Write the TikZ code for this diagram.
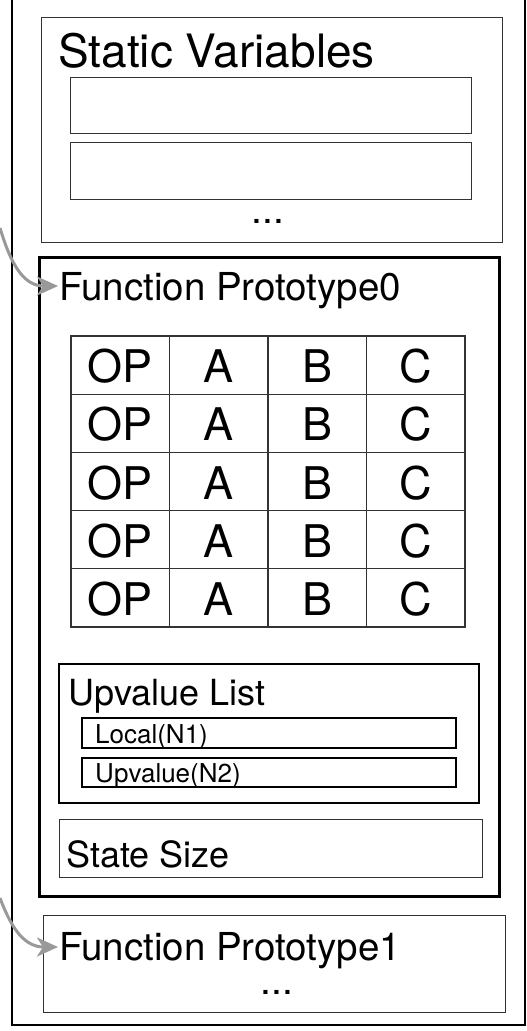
\documentclass[tikz,border=0pt]{standalone}
\usepackage{fontspec}
\setmainfont{TeX Gyre Heros}
\usetikzlibrary{arrows.meta,calc}

\definecolor{linkgray}{HTML}{999999}
\definecolor{thinline}{HTML}{333333}

\tikzset{
  panel/.style={draw=thinline, line width=1.4pt, inner sep=0pt, anchor=north west},
  slot/.style={draw=thinline, line width=1.2pt, inner sep=0pt, anchor=north west},
  protobox/.style={draw=black, line width=3pt, inner sep=0pt, anchor=north west},
  listbox/.style={draw=black, line width=2pt, inner sep=0pt, anchor=north west},
  entrybox/.style={draw=black, line width=1.8pt, inner sep=0pt, anchor=north west},
  cell/.style={draw=thinline, line width=1.2pt, inner sep=0pt,
    minimum width=98.5pt, minimum height=58.2pt,
    text height=35pt, text depth=0pt, font=\fontsize{45}{48}\selectfont},
  label/.style={inner sep=0pt, anchor=base west},
  bigtext/.style={label, font=\fontsize{46}{50}\selectfont},
  headtext/.style={label, font=\fontsize{38.5}{42}\selectfont},
  midtext/.style={label, font=\fontsize{36}{40}\selectfont},
  smalltext/.style={label, font=\fontsize{26}{30}\selectfont},
  dots/.style={inner sep=0pt, anchor=base, font=\fontsize{39}{42}\selectfont},
  link/.style={draw=linkgray, line width=3pt,
    -{Stealth[length=21pt, width=19pt, inset=6pt, fill=linkgray]}},
}

\begin{document}
\begin{tikzpicture}[x=1pt, y=-1pt]
  \useasboundingbox (0,0) rectangle (527,1031);

  % outer container (its top edge runs past the page)
  \coordinate (otl) at (12,-10);
  \coordinate (obl) at (12,1025);
  \coordinate (obr) at (525,1025);
  \coordinate (otr) at (525,-10);
  \draw[line width=2.5pt] (otl) -- (obl) -- (obr) -- (otr);

  % static variables
  \node[panel, minimum width=461pt, minimum height=225pt] (static) at (41,17) {};
  \node[bigtext] (statictitle) at (58,67) {Static Variables};
  \node[slot, minimum width=401pt, minimum height=56pt] (sv1) at (70,77) {};
  \node[slot, minimum width=401pt, minimum height=57pt] (sv2) at (70,142) {};
  \node[dots] (svdots) at (268,223) {...};

  % function prototype 0
  \node[protobox, minimum width=460pt, minimum height=639pt] (proto0) at (38,256) {};
  \node[headtext] (fp0) at (59,300) {Function Prototype0};

  % instruction table
  \foreach \r in {0,...,4} {
    \foreach \t [count=\c] in {OP,A,B,C} {
      \node[cell] (cell\r\c) at ({71+98.5*(\c-1)+49.25}, {336+58.2*\r+29.1}) {\t};
    }
  }

  % upvalue list
  \node[listbox, minimum width=420pt, minimum height=139pt] (uplist) at (58,663) {};
  \node[midtext] (uptitle) at (68,705) {Upvalue List};
  \node[entrybox, minimum width=374pt, minimum height=30pt] (local) at (81,717) {};
  \node[smalltext] (localtext) at (95,743) {Local(N1)};
  \node[entrybox, minimum width=374pt, minimum height=29pt] (upval) at (81,757) {};
  \node[smalltext] (upvaltext) at (95,782) {Upvalue(N2)};

  % state size
  \node[panel, minimum width=423pt, minimum height=58pt] (state) at (59,819) {};
  \node[midtext] (statetext) at (66,867) {State Size};

  % function prototype 1
  \node[panel, minimum width=462pt, minimum height=97pt] (proto1) at (43,915) {};
  \node[headtext] (fp1) at (59,960) {Function Prototype1};
  \node[dots] (p1dots) at (277,994) {...};

  % incoming references
  \coordinate (src0) at (0,228);
  \coordinate (src1) at (0,898);
  \draw[link] (src0) .. controls (12,268) and (25,286) .. ($(fp0.base west)+(-1,-14)$);
  \draw[link] (src1) .. controls (12,930) and (25,947) .. ($(fp1.base west)+(-1,-13)$);
\end{tikzpicture}
\end{document}
